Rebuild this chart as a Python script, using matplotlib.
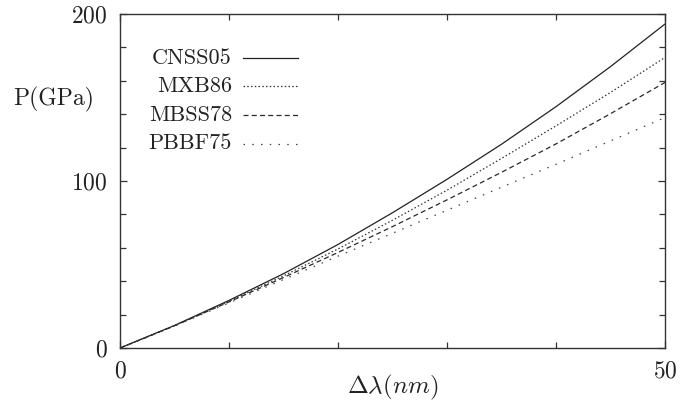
import matplotlib
matplotlib.use("Agg")
import matplotlib.pyplot as plt
from matplotlib.ticker import MultipleLocator

plt.rcParams['font.family'] = 'serif'
plt.rcParams['font.serif'] = ['cmr10', 'DejaVu Serif']
plt.rcParams['mathtext.fontset'] = 'cm'
plt.rcParams['axes.formatter.use_mathtext'] = True

# Data
dlam = [0, 5, 10, 15, 20, 25, 30, 35, 40, 45, 50]
cnss05 = [0, 13.5, 28.5, 44.5, 62.0, 81.0, 101.0, 122.0, 144.5, 168.5, 194.0]
mxb86 = [0, 13.4, 28.0, 43.2, 59.3, 76.5, 94.5, 113.5, 133.0, 153.0, 174.0]
mbss78 = [0, 13.3, 27.6, 42.2, 57.2, 72.7, 88.7, 105.2, 122.2, 140.3, 159.0]
pbbf75 = [0, 13.2, 27.0, 41.0, 55.0, 68.7, 82.5, 96.3, 110.0, 124.0, 138.0]

labels = ['CNSS05', 'MXB86', 'MBSS78', 'PBBF75']
series = [cnss05, mxb86, mbss78, pbbf75]
styles = ['-', (0, (1.2, 1.8)), (0, (4.0, 2.6)), (0, (1.2, 5.8))]
colors = ['#222222', '#333333', '#2a2a2a', '#444444']

fig = plt.figure(figsize=(6.83, 4.04), dpi=100)
ax = fig.add_axes([0.1757, 0.1386, 0.9736 - 0.1757, 0.9653 - 0.1386])

for y, lab, ls, c in zip(series, labels, styles, colors):
    ax.plot(dlam, y, linestyle=ls, color=c, lw=0.9, label=lab)

ax.set_xlim(0, 50)
ax.set_ylim(0, 200)
ax.xaxis.set_major_locator(MultipleLocator(50))
ax.xaxis.set_minor_locator(MultipleLocator(10))
ax.yaxis.set_major_locator(MultipleLocator(100))
ax.yaxis.set_minor_locator(MultipleLocator(20))
ax.tick_params(which='both', direction='in', top=True, right=True,
               labelsize=17, labelcolor='#222222', color='#333333', width=0.9)
ax.tick_params(which='major', length=5, pad=9)
ax.tick_params(which='minor', length=4.5)
for s in ax.spines.values():
    s.set_linewidth(1.0)
    s.set_color('#333333')

ax.set_xlabel(r'$\Delta\lambda(nm)$', fontsize=18, labelpad=-7, color='#222222')
ax.set_ylabel('P(GPa)', fontsize=17, rotation=0, ha='center', va='center',
              color='#222222')
ax.yaxis.set_label_coords(-0.121, 0.745)

# gnuplot-style key: right-aligned labels, sample line to the right
key_top = 0.869
key_step = 0.0856
for i, (lab, ls, c) in enumerate(zip(labels, styles, colors)):
    yk = key_top - i * key_step
    ax.text(0.2055, yk, lab, transform=ax.transAxes, ha='right', va='center',
            fontsize=16, color='#222222')
    ax.plot([0.2257, 0.3266], [yk, yk], transform=ax.transAxes,
            linestyle=ls, color=c, lw=0.9)

fig.savefig('out.png', dpi=100)
